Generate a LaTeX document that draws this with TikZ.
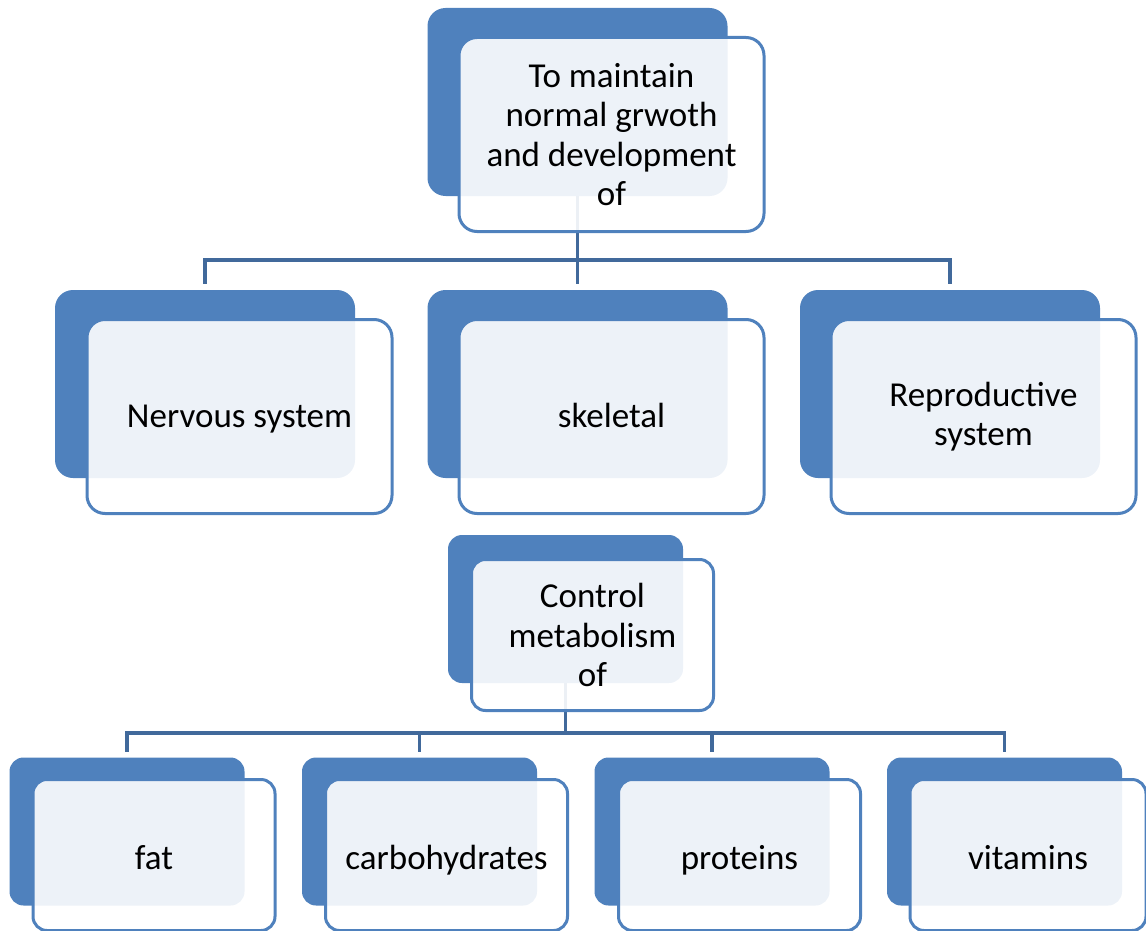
\documentclass[tikz,border=0pt]{standalone}
\usepackage{fontspec}
\setmainfont{Carlito}
\definecolor{accent}{HTML}{4F81BD}
\definecolor{linkblue}{HTML}{41699B}
% single-line labels: fixed height, no depth, so all sit on one baseline
\newcommand{\biglabel}[1]{\raisebox{0pt}[22pt][0pt]{#1}}
\newcommand{\smalllabel}[1]{\raisebox{0pt}[28pt][0pt]{#1}}
\begin{document}
\begin{tikzpicture}[x=1pt,y=-1pt,
  back/.style={fill=accent,draw=none,inner sep=0pt,rounded corners=18pt},
  backbig/.style={back,minimum width=300pt,minimum height=188pt},
  backsmall/.style={back,rounded corners=14pt,minimum width=235pt,minimum height=148pt},
  front/.style={fill=white,fill opacity=0.9,text opacity=1,draw=accent,line width=3pt,
    inner sep=0pt,align=center,rounded corners=18pt,
    font=\fontsize{35}{39.5}\selectfont},
  frontbig/.style={front,minimum width=305pt,minimum height=194pt},
  frontsmall/.style={front,rounded corners=14pt,minimum width=242pt,minimum height=151pt},
  conn/.style={draw=linkblue,line width=3.5pt,line join=miter}]
\useasboundingbox (0,0) rectangle (1146,931);

% shaded back plates
\node[backbig] (topB) at (577.5,102) {};
\node[backbig] (nervB) at (205,384) {};
\node[backbig] (skelB) at (577.5,384) {};
\node[backbig] (reproB) at (950,384) {};
\node[backsmall] (ctrlB) at (565.5,609) {};
\node[backsmall] (fatB) at (127,831.5) {};
\node[backsmall] (carbB) at (419.5,831.5) {};
\node[backsmall] (protB) at (712,831.5) {};
\node[backsmall] (vitB) at (1004.5,831.5) {};

% tree connectors
\draw[conn] (topB.south) -- ++(0,64) coordinate (bus1);
\draw[conn,shorten >=6pt] (bus1) -| (nervB.north);
\draw[conn,shorten >=6pt] (bus1) -| (reproB.north);
\draw[conn,shorten >=6pt] (bus1) -- (skelB.north);
\draw[conn] (ctrlB.south) -- ++(0,50) coordinate (bus2);
\draw[conn,shorten >=5pt] (bus2) -| (fatB.north);
\draw[conn,shorten >=5pt] (bus2) -| (carbB.north);
\draw[conn,shorten >=5pt] (bus2) -| (protB.north);
\draw[conn,shorten >=5pt] (bus2) -| (vitB.north);

% labelled front cards
\node[frontbig] (top) at (611.5,134.5) {To maintain\\normal grwoth\\and development\\of};
\node[frontbig] (nerv) at (239.5,416.5) {\biglabel{Nervous system}};
\node[frontbig] (skel) at (611.5,416.5) {\biglabel{skeletal}};
\node[frontbig] (repro) at (983.5,416.5) {Reproductive\\system};
\node[frontsmall] (ctrl) at (592.5,635) {Control\\metabolism\\of};
\node[frontsmall] (fat) at (154,855) {\smalllabel{fat}};
\node[frontsmall] (carb) at (446.5,855) {\smalllabel{carbohydrates}};
\node[frontsmall] (prot) at (739.5,855) {\smalllabel{proteins}};
\node[frontsmall,minimum width=236pt] (vit) at (1028,855) {\smalllabel{vitamins}};
\end{tikzpicture}
\end{document}
